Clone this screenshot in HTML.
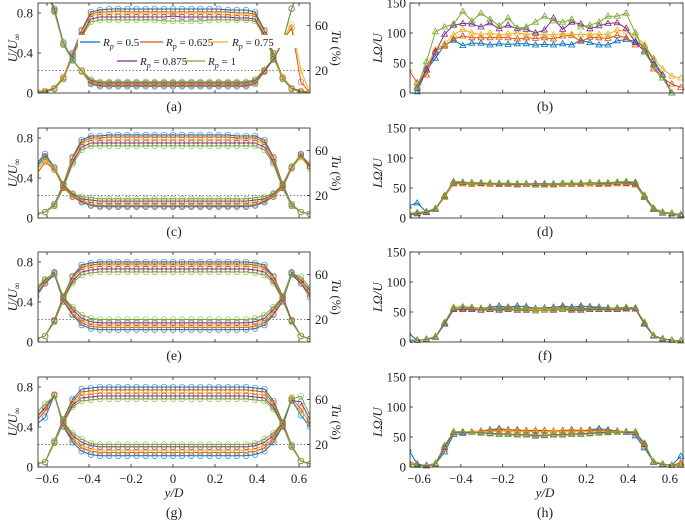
<!DOCTYPE html>
<html><head><meta charset="utf-8">
<style>
html,body{margin:0;padding:0;background:#fff;}
svg{display:block;font-family:"Liberation Serif",serif;}
</style></head>
<body>
<svg id="fig" width="685" height="520" viewBox="0 0 685 520" xmlns="http://www.w3.org/2000/svg"></svg>
<script>
const xs=[-0.652,-0.609,-0.565,-0.522,-0.478,-0.435,-0.391,-0.348,-0.304,-0.261,-0.217,-0.174,-0.130,-0.087,-0.043,0,0.043,0.087,0.130,0.174,0.217,0.261,0.304,0.348,0.391,0.435,0.478,0.522,0.565,0.609,0.652];
const seriesLabels=["0.5","0.625","0.75","0.875","1"];
const colors=["#0072BD","#D95319","#EDB120","#7E2F8E","#77AC30"];
const xTicks=[-0.6,-0.4,-0.2,0,0.2,0.4,0.6];
const uTicks=[0,0.4,0.8];
const tuTicks=[20,60];
const lTicks=[0,50,100,150];

// panel (a)
const uA=[
[0.00,0.01,0.04,0.15,0.40,0.63,0.81,0.83,0.84,0.84,0.84,0.84,0.84,0.84,0.84,0.84,0.84,0.84,0.84,0.84,0.84,0.83,0.83,0.83,0.81,0.63,0.40,0.15,0.04,0.01,0.00],
[0.02,0.02,0.05,0.16,0.39,0.62,0.79,0.81,0.81,0.82,0.81,0.81,0.81,0.81,0.81,0.81,0.81,0.81,0.81,0.81,0.81,0.81,0.80,0.80,0.79,0.62,0.39,0.16,0.05,0.02,0.01],
[0.00,0.01,0.04,0.15,0.38,0.60,0.77,0.79,0.79,0.79,0.79,0.79,0.79,0.79,0.79,0.79,0.79,0.79,0.79,0.79,0.79,0.78,0.78,0.78,0.77,0.60,0.38,0.15,0.04,0.01,0.00],
[0.00,0.01,0.04,0.14,0.37,0.58,0.74,0.76,0.76,0.76,0.76,0.76,0.76,0.76,0.76,0.77,0.76,0.76,0.76,0.76,0.76,0.76,0.75,0.75,0.74,0.58,0.37,0.14,0.04,0.01,0.00],
[0.00,0.01,0.04,0.14,0.36,0.56,0.71,0.73,0.73,0.73,0.73,0.73,0.73,0.73,0.72,0.72,0.72,0.72,0.72,0.73,0.73,0.73,0.73,0.73,0.72,0.56,0.36,0.14,0.04,0.01,0.00]];
const tuA=[
[99,95,75,45,30,19,8,6,6,6,6,6,6,6,6,6,6,6,6,6,6,6,6,6,8,19,30,45,75,95,99],
[99,95,74,44,29,19,9,7,7,7,7,7,7,7,7,7,7,7,7,7,7,7,7,7,9,19,30,46,58,10,0],
[99,94,73,44,29,19,10,8,8,8,8,8,8,8,8,8,8,8,8,8,8,8,8,8,10,20,31,47,61,20,0],
[99,94,73,43,29,20,11,9,9,9,9,9,9,9,9,9,9,9,9,9,9,9,9,9,11,20,30,45,75,95,99],
[99,94,72,43,29,20,12,10,10,10,10,10,10,10,10,10,10,10,10,10,10,10,10,10,12,21,31,45,75,95,99]];
// panel (c)
const uC=[
[0.04,0.06,0.14,0.34,0.61,0.78,0.82,0.82,0.83,0.83,0.83,0.83,0.83,0.83,0.83,0.83,0.83,0.83,0.83,0.83,0.83,0.83,0.82,0.82,0.82,0.78,0.61,0.34,0.14,0.06,0.04],
[0.04,0.06,0.13,0.33,0.60,0.76,0.80,0.80,0.81,0.81,0.81,0.81,0.81,0.81,0.81,0.81,0.81,0.81,0.81,0.81,0.81,0.81,0.80,0.80,0.80,0.76,0.60,0.33,0.13,0.06,0.04],
[0.04,0.06,0.13,0.32,0.58,0.74,0.78,0.78,0.78,0.78,0.78,0.78,0.78,0.78,0.78,0.78,0.78,0.78,0.78,0.78,0.78,0.78,0.78,0.78,0.78,0.74,0.58,0.32,0.13,0.06,0.04],
[0.04,0.06,0.12,0.31,0.56,0.71,0.75,0.75,0.75,0.75,0.75,0.75,0.75,0.75,0.75,0.75,0.75,0.75,0.75,0.75,0.75,0.75,0.75,0.75,0.75,0.71,0.56,0.31,0.12,0.06,0.04],
[0.04,0.06,0.12,0.30,0.54,0.68,0.72,0.72,0.72,0.72,0.72,0.72,0.72,0.72,0.72,0.72,0.72,0.72,0.72,0.72,0.72,0.72,0.72,0.72,0.72,0.68,0.54,0.30,0.12,0.06,0.04]];
const tuC=[
[46,55,44,27,19,14,11,10,10,10,10,10,10,10,10,10,10,10,10,10,10,10,10,10,11,14,19,27,44,55,46],
[38,50,43,27,19,15,12,11,11,11,11,11,11,11,11,11,11,11,11,11,11,11,11,11,12,15,19,27,44,56,44],
[42,52,44,28,20,16,14,13,13,13,13,13,13,13,13,13,13,13,13,13,13,13,13,13,14,16,20,28,44,54,44],
[48,57,45,29,21,17,16,15,15,15,15,15,15,15,15,15,15,15,15,15,15,15,15,15,16,17,21,29,45,57,46],
[44,54,45,30,22,19,18,17,17,17,17,17,17,17,17,17,17,17,17,17,17,17,17,17,18,19,22,30,46,56,48]];
// panel (e)
const uE=[
[0.03,0.06,0.22,0.46,0.66,0.77,0.79,0.80,0.80,0.80,0.80,0.80,0.80,0.80,0.80,0.80,0.80,0.80,0.80,0.80,0.80,0.80,0.80,0.80,0.79,0.77,0.66,0.46,0.22,0.06,0.03],
[0.03,0.06,0.22,0.45,0.65,0.75,0.77,0.78,0.78,0.78,0.78,0.78,0.78,0.78,0.78,0.78,0.78,0.78,0.78,0.78,0.78,0.78,0.78,0.78,0.77,0.75,0.65,0.45,0.22,0.06,0.03],
[0.03,0.06,0.21,0.44,0.63,0.73,0.75,0.76,0.76,0.76,0.76,0.76,0.76,0.76,0.76,0.76,0.76,0.76,0.76,0.76,0.76,0.76,0.76,0.76,0.75,0.73,0.63,0.44,0.21,0.06,0.03],
[0.03,0.06,0.21,0.43,0.61,0.70,0.72,0.73,0.73,0.73,0.73,0.73,0.73,0.73,0.73,0.73,0.73,0.73,0.73,0.73,0.73,0.73,0.73,0.73,0.72,0.70,0.61,0.43,0.21,0.06,0.03],
[0.03,0.06,0.20,0.42,0.59,0.67,0.69,0.70,0.70,0.70,0.70,0.70,0.70,0.70,0.70,0.70,0.70,0.70,0.70,0.70,0.70,0.70,0.70,0.70,0.69,0.67,0.59,0.42,0.20,0.06,0.03]];
const tuE=[
[40,52,60,36,24,15,12,11,11,11,11,11,11,11,11,11,11,11,11,11,11,11,11,11,12,15,24,36,60,52,40],
[42,53,61,37,25,17,14,13,13,13,13,13,13,13,13,13,13,13,13,13,13,13,13,13,14,17,25,37,61,53,42],
[44,54,62,38,27,19,16,15,15,15,15,15,15,15,15,15,15,15,15,15,15,15,15,15,16,19,27,38,62,54,44],
[46,55,62,39,29,21,18,17,17,17,17,17,17,17,17,17,17,17,17,17,17,17,17,17,18,21,29,39,62,55,46],
[48,56,61,40,31,24,21,20,20,20,20,20,20,20,20,20,20,20,20,20,20,20,20,20,21,24,31,40,61,58,48]];
// panel (g)
const uG=[
[0.03,0.05,0.26,0.48,0.68,0.78,0.79,0.80,0.80,0.80,0.80,0.80,0.80,0.80,0.80,0.80,0.80,0.80,0.80,0.80,0.80,0.80,0.80,0.80,0.79,0.78,0.66,0.45,0.22,0.06,0.03],
[0.03,0.05,0.25,0.47,0.66,0.75,0.76,0.77,0.77,0.77,0.77,0.77,0.77,0.77,0.77,0.77,0.77,0.77,0.77,0.77,0.77,0.77,0.77,0.77,0.76,0.75,0.64,0.44,0.21,0.06,0.03],
[0.03,0.05,0.25,0.46,0.64,0.72,0.73,0.74,0.74,0.74,0.74,0.74,0.74,0.74,0.74,0.74,0.74,0.74,0.74,0.74,0.74,0.74,0.74,0.74,0.73,0.72,0.62,0.43,0.21,0.06,0.03],
[0.03,0.05,0.24,0.45,0.62,0.69,0.70,0.71,0.71,0.71,0.71,0.71,0.71,0.71,0.71,0.71,0.71,0.71,0.71,0.71,0.71,0.71,0.71,0.71,0.70,0.69,0.60,0.42,0.20,0.06,0.03],
[0.03,0.05,0.24,0.44,0.60,0.66,0.67,0.68,0.68,0.68,0.68,0.68,0.68,0.68,0.68,0.68,0.68,0.68,0.68,0.68,0.68,0.68,0.68,0.68,0.67,0.66,0.58,0.41,0.20,0.06,0.03]];
const tuG=[
[38,44,64,36,22,14,11,10,10,10,10,10,10,10,10,10,10,10,10,10,10,10,10,10,11,14,22,36,60,46,36],
[40,50,64,37,24,17,14,13,13,13,13,13,13,13,13,13,13,13,13,13,13,13,13,13,14,17,24,37,61,52,38],
[42,52,65,38,26,19,16,15,15,15,15,15,15,15,15,15,15,15,15,15,15,15,15,15,16,19,26,38,62,50,40],
[44,53,64,39,28,22,19,18,18,18,18,18,18,18,18,18,18,18,18,18,18,18,18,18,19,22,28,39,59,58,42],
[48,56,63,40,30,25,21,20,20,20,20,20,20,20,20,20,20,20,20,20,20,20,20,20,21,25,30,40,60,63,46]];
// panel (b)
const lB=[
[null,2,38,58,80,88,79,83,83,80,82,81,82,82,80,81,80,82,80,88,84,80,80,87,89,86,78,55,30,0,null],
[40,17,30,70,78,90,95,92,92,92,93,92,90,92,91,92,90,95,96,86,93,92,91,96,92,80,80,40,25,15,9],
[null,12,45,72,82,97,106,100,97,100,97,99,100,98,99,97,97,99,98,97,98,98,98,105,103,96,80,58,40,28,25],
[null,8,40,68,98,113,116,115,110,117,107,113,107,106,100,105,125,106,118,115,107,112,116,117,108,84,70,48,30,0,null],
[null,10,52,102,110,115,136,120,133,123,112,125,108,110,118,128,120,118,123,110,113,118,128,128,133,100,68,45,25,0,null]];
// panel (d)
const lD=[
[20,25,10,14,36,58,58,57,58,57,56,57,56,56,55,55,56,57,56,57,57,56,57,58,58,56,34,14,8,8,6],
[8,9,10,15,35,57,57,56,57,56,56,56,55,56,55,55,55,56,56,56,57,56,56,57,57,55,36,15,9,7,5],
[6,8,10,14,34,59,58,58,58,57,57,58,57,57,56,56,57,57,57,58,58,57,57,58,59,57,35,15,9,8,5],
[5,7,9,15,37,60,59,59,58,58,57,58,57,57,57,57,57,58,58,58,59,58,58,59,60,58,37,16,10,7,4],
[6,9,11,16,38,61,60,59,59,58,58,58,57,57,56,56,57,58,58,58,59,59,59,60,61,60,38,17,10,8,5]];
// panel (f)
const lF=[
[15,3,4,8,30,55,57,56,56,58,60,58,60,59,56,57,58,60,58,60,59,58,57,56,57,55,30,10,5,3,2],
[3,3,4,9,31,56,56,57,56,57,56,57,56,56,55,56,56,57,56,57,56,57,56,56,56,56,31,11,5,3,2],
[3,3,4,9,32,56,55,55,55,55,55,55,54,55,54,55,55,55,54,55,55,55,55,55,55,56,32,11,5,3,2],
[3,3,4,8,30,54,54,54,53,54,53,54,53,53,52,53,53,54,53,53,54,54,54,54,55,55,30,10,5,3,2],
[3,3,5,9,33,58,59,58,56,56,55,55,54,54,52,53,54,54,55,55,55,56,56,57,58,57,33,11,6,3,2]];
// panel (h)
const lH=[
[30,5,2,5,25,54,56,58,60,62,64,62,62,60,60,60,60,60,62,60,62,64,62,60,58,52,32,8,5,3,18],
[10,3,2,5,30,57,58,59,60,61,62,62,61,61,61,61,60,61,61,61,61,61,60,60,59,56,35,9,5,3,7],
[5,3,2,5,31,57,58,59,59,59,60,60,59,59,59,59,59,59,59,59,59,59,59,59,59,57,36,8,4,3,4],
[5,3,2,5,33,58,58,58,57,56,55,55,54,54,53,53,54,54,55,55,56,57,58,58,58,58,38,8,4,3,3],
[5,3,3,6,36,59,59,58,56,55,54,54,53,53,51,52,53,53,54,54,55,56,57,58,59,59,40,9,5,3,3]];

const svg=document.getElementById('fig');
const NS='http://www.w3.org/2000/svg';
function el(tag,attrs,parent){const e=document.createElementNS(NS,tag);for(const k in attrs)e.setAttribute(k,attrs[k]);(parent||svg).appendChild(e);return e;}

const LX0=38,LX1=310,RX0=410,RX1=683,H=90;
const bottoms=[93,218,342,467];
function xL(v){return 173+v*210;}
function xR(v){return 544.5+v*209;}

let clipId=0;
function addClip(x0,y0,w,h){clipId++;const cp=el('clipPath',{id:'c'+clipId});el('rect',{x:x0,y:y0,width:w,height:h},cp);return 'url(#c'+clipId+')';}

function leftPanel(bottom,U,TU,label,showX){
  const g=el('g',{});
  
  
  const top=bottom-H;
  const yU=u=>bottom-u/0.9*H;
  const yT=t=>bottom-t/80*H;
  // dotted line at Tu 20
  const dl=el('line',{x1:LX0,x2:LX1,y1:yT(20),y2:yT(20),stroke:'#555','stroke-width':0.8,'stroke-dasharray':'1.5,2'},g);
  
  
  const clip=addClip(LX0,top,LX1-LX0,H);
  const dg=el('g',{'clip-path':clip},g);
  [[U,yU],[TU,yT]].forEach(([arr,yf],q)=>{
    arr.forEach((s,si)=>{
      let d='';s.forEach((v,i)=>{d+=(i?'L':'M')+xL(xs[i]).toFixed(1)+','+yf(v).toFixed(1);});
      const p=el('path',{d:d,fill:'none',stroke:colors[si],'stroke-width':1},dg);
      
      
      s.forEach((v,i)=>{
        const c=el('circle',{cx:xL(xs[i]).toFixed(1),cy:yf(v).toFixed(1),r:2.8,fill:'none',stroke:colors[si],'stroke-width':0.7,opacity:0.8},dg);
        
        
      });
    });
  });
  const fr=el('rect',{x:LX0,y:top,width:LX1-LX0,height:H,fill:'none',stroke:'#222','stroke-width':0.8},g);
  
  
  xTicks.forEach(t=>{const x=xL(t);el('line',{x1:x,x2:x,y1:bottom,y2:bottom-3,stroke:'#222','stroke-width':0.8},g);el('line',{x1:x,x2:x,y1:top,y2:top+3,stroke:'#222','stroke-width':0.8},g);
    if(showX){const tx=el('text',{x:x,y:bottom+16,'font-size':13,'text-anchor':'middle',fill:'#222'},g);tx.textContent=(t<0?'\u2212':'')+(t===0?'0':Math.abs(t).toFixed(1));
      
      }});
  uTicks.forEach(t=>{const y=yU(t);el('line',{x1:LX0,x2:LX0+3,y1:y,y2:y,stroke:'#222','stroke-width':0.8},g);
    const tx=el('text',{x:33,y:y+4.5,'font-size':13,'text-anchor':'end',fill:'#222'},g);tx.textContent=t===0?'0':t.toFixed(1);
    
    });
  tuTicks.forEach(t=>{const y=yT(t);el('line',{x1:LX1,x2:LX1-3,y1:y,y2:y,stroke:'#222','stroke-width':0.8},g);
    const tx=el('text',{x:315,y:y+4.5,'font-size':13,fill:'#222'},g);tx.textContent=t;
    
    });
  const yl=el('text',{transform:'translate(17,'+(bottom-45)+') rotate(-90)','font-size':13,'text-anchor':'middle','font-style':'italic',fill:'#222'},g);
  yl.innerHTML='U/U<tspan font-size="9" dy="3">\u221E</tspan>';
  
  
  const yr=el('text',{transform:'translate(332,'+(bottom-45)+') rotate(90)','font-size':13,'text-anchor':'middle',fill:'#222'},g);
  yr.innerHTML='<tspan font-style="italic">Tu</tspan> (%)';
  
  
  const pl=el('text',{x:174,y:showX?517:bottom+18,'font-size':14,'text-anchor':'middle',fill:'#222'},g);
  pl.textContent='('+label+')';
  
  
  if(showX){const xt=el('text',{x:174,y:497,'font-size':13,'text-anchor':'middle','font-style':'italic',fill:'#222'},g);xt.textContent='y/D';
    
    }
}

function rightPanel(bottom,L,label,showX){
  const g=el('g',{});
  
  
  const top=bottom-H;
  const yL=v=>bottom-v/150*H;
  const clip=addClip(RX0,top-4,RX1-RX0+4,H+8);
  const dg=el('g',{'clip-path':clip},g);
  L.forEach((s,si)=>{
    let d='';let started=false;
    s.forEach((v,i)=>{if(v===null){started=false;return;}d+=(started?'L':'M')+xR(xs[i]).toFixed(1)+','+yL(v).toFixed(1);started=true;});
    const p=el('path',{d:d,fill:'none',stroke:colors[si],'stroke-width':1},dg);
    
    
    s.forEach((v,i)=>{if(v===null)return;const x=xR(xs[i]),y=yL(v);
      const t=el('path',{d:'M'+x.toFixed(1)+','+(y-3.2).toFixed(1)+'L'+(x+3).toFixed(1)+','+(y+2).toFixed(1)+'L'+(x-3).toFixed(1)+','+(y+2).toFixed(1)+'Z',fill:'none',stroke:colors[si],'stroke-width':0.8},dg);
      
      });
  });
  const fr=el('rect',{x:RX0,y:top,width:RX1-RX0,height:H,fill:'none',stroke:'#222','stroke-width':0.8},g);
  
  
  xTicks.forEach(t=>{const x=xR(t);el('line',{x1:x,x2:x,y1:bottom,y2:bottom-3,stroke:'#222','stroke-width':0.8},g);el('line',{x1:x,x2:x,y1:top,y2:top+3,stroke:'#222','stroke-width':0.8},g);
    if(showX){const tx=el('text',{x:x,y:bottom+16,'font-size':13,'text-anchor':'middle',fill:'#222'},g);tx.textContent=(t<0?'\u2212':'')+(t===0?'0':Math.abs(t).toFixed(1));
      
      }});
  lTicks.forEach(t=>{const y=yL(t);el('line',{x1:RX0,x2:RX0+3,y1:y,y2:y,stroke:'#222','stroke-width':0.8},g);el('line',{x1:RX1,x2:RX1-3,y1:y,y2:y,stroke:'#222','stroke-width':0.8},g);
    const tx=el('text',{x:406,y:y+4.5,'font-size':13,'text-anchor':'end',fill:'#222'},g);tx.textContent=t;
    
    });
  const yl=el('text',{transform:'translate(382,'+(bottom-45)+') rotate(-90)','font-size':13,'text-anchor':'middle','font-style':'italic',fill:'#222'},g);
  yl.textContent='L\u03A9/U';
  
  
  const pl=el('text',{x:545,y:showX?517:bottom+18,'font-size':14,'text-anchor':'middle',fill:'#222'},g);
  pl.textContent='('+label+')';
  
  
  if(showX){const xt=el('text',{x:545,y:497,'font-size':13,'text-anchor':'middle','font-style':'italic',fill:'#222'},g);xt.textContent='y/D';
    
    }
}

leftPanel(bottoms[0],uA,tuA,'a',false);
leftPanel(bottoms[1],uC,tuC,'c',false);
leftPanel(bottoms[2],uE,tuE,'e',false);
leftPanel(bottoms[3],uG,tuG,'g',true);
rightPanel(bottoms[0],lB,'b',false);
rightPanel(bottoms[1],lD,'d',false);
rightPanel(bottoms[2],lF,'f',false);
rightPanel(bottoms[3],lH,'h',true);

// legend in panel (a)
const legend=el('g',{});


const legPos=[[80,100,103,42],[140,163,166,42],[208,228,232,42],[117,137,140,61],[183,205,208,61]];
legPos.forEach((p,i)=>{
  el('rect',{x:p[0]-2,y:p[3]-7,width:(i===2?72:(i===3?64:58))+ (p[2]-p[0]),height:13,fill:'#fff'},legend);
});
legPos.forEach((p,i)=>{
  const ln=el('line',{x1:p[0],x2:p[1],y1:p[3],y2:p[3],stroke:colors[i],'stroke-width':1.2},legend);
  
  
  const t=el('text',{x:p[2],y:p[3]+4,'font-size':11,fill:'#222'},legend);
  t.innerHTML='<tspan font-style="italic">R</tspan><tspan font-style="italic" font-size="8" dy="3">p</tspan><tspan dy="-3"> = '+seriesLabels[i]+'</tspan>';
  
  
});
</script>
</body></html>
